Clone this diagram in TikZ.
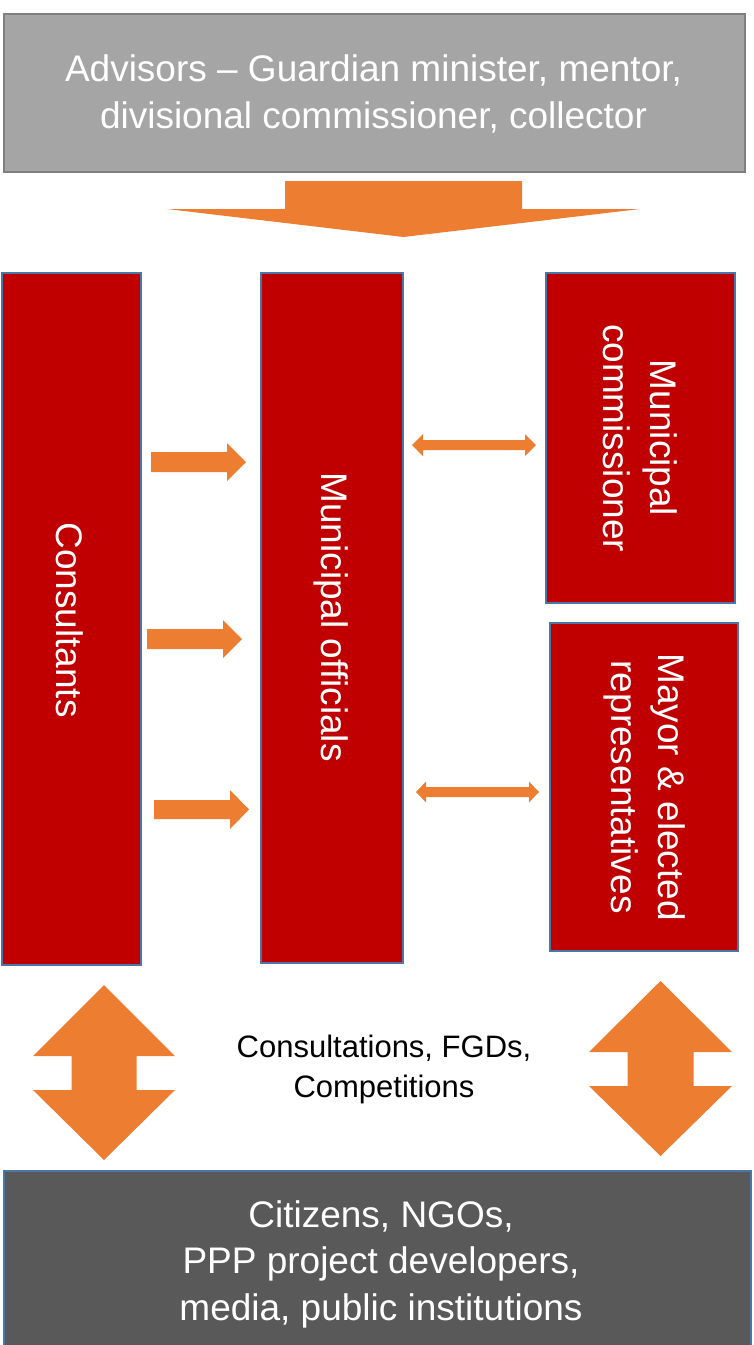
\documentclass[tikz,border=0pt]{standalone}
\usepackage{fontspec}
\setmainfont{Liberation Sans}
\definecolor{orangeA}{HTML}{ED7D31}
\definecolor{redbox}{HTML}{C00000}
\definecolor{blueedge}{HTML}{4A76A8}
\definecolor{grayfill}{HTML}{A5A5A5}
\definecolor{grayedge}{HTML}{7F7F7F}
\definecolor{darkfill}{HTML}{595959}
\begin{document}
\begin{tikzpicture}[x=1pt,y=-1pt,
  redrect/.style={draw=blueedge,line width=2.2pt,fill=redbox,inner sep=0pt,anchor=north west},
  bigtext/.style={text=white,font=\fontsize{37}{47}\selectfont,align=center,inner sep=0pt},
  blockarrow/.style={fill=orangeA,draw=none}]
\useasboundingbox (0,0) rectangle (753,1345);

% top box
\node[draw=grayedge,line width=2pt,fill=grayfill,minimum width=741pt,minimum height=158pt,inner sep=0pt,anchor=north west] (adv) at (3,13) {};
\node[bigtext] (advt) at (373.5,94) {Advisors -- Guardian minister, mentor,\\divisional commissioner, collector};

% big down arrow
\fill[blockarrow] (285,181) -- (522,181) -- (522,209) -- (640,209) -- (403.5,237) -- (167,209) -- (285,209) -- cycle;

% red boxes
\node[redrect,minimum width=139pt,minimum height=692pt] (cons) at (1,272) {};
\node[redrect,minimum width=142pt,minimum height=690pt] (off) at (260,272) {};
\node[redrect,minimum width=189pt,minimum height=330pt] (com) at (545,272) {};
\node[redrect,minimum width=188pt,minimum height=328pt] (may) at (549,622) {};

\node[bigtext,rotate=-90] (const) at (70,620) {Consultants};
\node[bigtext,rotate=-90] (offt) at (331,617) {Municipal officials};
\node[bigtext,rotate=-90] (comt) at (com.center) {Municipal\\commissioner};
\node[bigtext,rotate=-90] (mayt) at (may.center) {Mayor \& elected\\representatives};

% right arrows
\fill[blockarrow] (151,452) -- (227,452) -- (227,443) -- (246,462) -- (227,481) -- (227,472) -- (151,472) -- cycle;
\fill[blockarrow] (147,629) -- (223,629) -- (223,620) -- (242,639) -- (223,658) -- (223,649) -- (147,649) -- cycle;
\fill[blockarrow] (154,800) -- (230,800) -- (230,790) -- (249,809.5) -- (230,829) -- (230,819) -- (154,819) -- cycle;

% double horizontal arrows
\fill[blockarrow] (412,445) -- (423,434) -- (423,440) -- (525,440) -- (525,434) -- (536,445) -- (525,456) -- (525,450) -- (423,450) -- (423,456) -- cycle;
\fill[blockarrow] (416,792) -- (426,781.5) -- (426,787) -- (529,787) -- (529,781.5) -- (539,792) -- (529,802.5) -- (529,797) -- (426,797) -- (426,802.5) -- cycle;

% vertical double arrows
\fill[blockarrow] (104,985) -- (175,1056) -- (136.5,1056) -- (136.5,1090) -- (175,1090) -- (104,1160) -- (33,1090) -- (71.5,1090) -- (71.5,1056) -- (33,1056) -- cycle;
\fill[blockarrow] (660.5,981) -- (732,1052) -- (693.5,1052) -- (693.5,1086) -- (732,1086) -- (660.5,1156) -- (589,1086) -- (627.5,1086) -- (627.5,1052) -- (589,1052) -- cycle;

\node[font=\fontsize{31}{40}\selectfont,align=center,inner sep=0pt] (consult) at (384,1069) {Consultations, FGDs,\\Competitions};

% bottom box
\node[draw=blueedge,line width=2pt,fill=darkfill,minimum width=747pt,minimum height=190pt,inner sep=0pt,anchor=north west] (cit) at (3,1170) {};
\node[bigtext,font=\fontsize{37}{46.5}\selectfont] (citt) at (381,1264) {Citizens, NGOs,\\PPP project developers,\\media, public institutions};
\end{tikzpicture}
\end{document}
